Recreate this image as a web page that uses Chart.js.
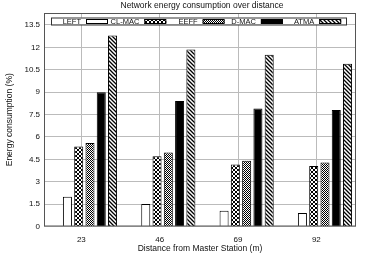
<!DOCTYPE html>
<html>
<head>
<meta charset="utf-8">
<script src="https://cdn.jsdelivr.net/npm/chart.js@4"></script>
<style>
  html, body { margin: 0; padding: 0; background: #fff; }
  #wrap { width: 367px; height: 255px; }
</style>
</head>
<body>
<div id="wrap"><canvas id="chart"></canvas></div>
<script>
const distances = ['23', '46', '69', '92'];
const seriesNames = ['LEFT', 'CL-MAC', 'EEFF', 'D-MAC', 'ATMA'];
const leftVals  = [2.0, 1.5, 1.05, 0.9];
const clmacVals = [5.35, 4.7, 4.15, 4.05];
const eeffVals  = [5.6, 4.95, 4.4, 4.28];
const dmacVals  = [9.0, 8.4, 7.9, 7.8];
const atmaVals  = [12.8, 11.85, 11.5, 10.9];
const yTicks = [0, 1.5, 3, 4.5, 6, 7.5, 9, 10.5, 12, 13.5];

const FONT = '"Liberation Sans", Arial, sans-serif';
const TEXT = '#111';

// small tiles used as bar fills
function makePattern(kind) {
    const c = document.createElement('canvas');
    const g = c.getContext('2d');
    if (kind === 'cross') {
        c.width = 4; c.height = 4;
        g.fillStyle = '#fff'; g.fillRect(0, 0, 4, 4);
        g.strokeStyle = '#000'; g.lineWidth = 1;
        g.beginPath();
        g.moveTo(0, 0); g.lineTo(4, 4);
        g.moveTo(4, 0); g.lineTo(0, 4);
        g.stroke();
    } else if (kind === 'checker') {
        c.width = 2; c.height = 2;
        g.fillStyle = '#fff'; g.fillRect(0, 0, 2, 2);
        g.fillStyle = '#000';
        g.fillRect(0, 0, 1, 1); g.fillRect(1, 1, 1, 1);
    } else if (kind === 'stripes') {
        c.width = 4; c.height = 4;
        g.fillStyle = '#fff'; g.fillRect(0, 0, 4, 4);
        g.strokeStyle = '#000'; g.lineWidth = 1.3;
        g.beginPath();
        g.moveTo(-1, -1); g.lineTo(5, 5);
        g.moveTo(-1, 3); g.lineTo(1, 5);
        g.moveTo(3, -1); g.lineTo(5, 1);
        g.stroke();
    }
    return g.createPattern(c, 'repeat');
}

const fills = ['#ffffff', makePattern('cross'), makePattern('checker'), '#000000', makePattern('stripes')];
const allVals = [leftVals, clmacVals, eeffVals, dmacVals, atmaVals];

const LABEL_SHIFT = -0.11;

// gnuplot-style legend: text, then sample box
const legendBox = {
    id: 'legendBox',
    afterDraw(chart) {
        const { ctx, chartArea } = chart;
        const top = chartArea.top + 4.5;
        ctx.save();
        ctx.fillStyle = '#fff';
        ctx.fillRect(chartArea.left + 7, top, 296, 7);
        ctx.strokeStyle = '#333';
        ctx.lineWidth = 1;
        ctx.strokeRect(chartArea.left + 7.5, top + 0.5, 295, 7);
        ctx.font = '7.5px ' + FONT;
        ctx.textAlign = 'right';
        ctx.textBaseline = 'middle';
        chart.data.datasets.forEach((ds, i) => {
            const sx = chartArea.left + 42 + i * 58.3;
            ctx.fillStyle = TEXT;
            ctx.fillText(ds.label, sx - 5, top + 4);
            ctx.fillStyle = ds.backgroundColor;
            ctx.fillRect(sx, top + 1.5, 22, 5);
            ctx.strokeStyle = '#000';
            ctx.strokeRect(sx + 0.5, top + 2, 21, 4);
        });
        ctx.restore();
    }
};

const frame = {
    id: 'frame',
    afterDatasetsDraw(chart) {
        const { ctx, chartArea: a } = chart;
        ctx.save();
        ctx.strokeStyle = '#555';
        ctx.lineWidth = 1;
        ctx.strokeRect(a.left + 0.5, a.top + 0.5, a.right - a.left - 1, a.bottom - a.top - 1);
        ctx.restore();
    }
};

new Chart(document.getElementById('chart'), {
    type: 'bar',
    data: {
        datasets: seriesNames.map((name, s) => ({
            label: name,
            data: allVals[s].map((v, i) => ({ x: i, y: v })),
            backgroundColor: fills[s],
            borderColor: '#000',
            borderWidth: 1,
            categoryPercentage: 0.72,
            barPercentage: 0.8
        }))
    },
    options: {
        responsive: true,
        maintainAspectRatio: false,
        animation: false,
        layout: { padding: { top: 13, right: 11, left: 0, bottom: 0 } },
        plugins: {
            legend: { display: false },
            tooltip: { enabled: false },
            title: { display: false }
        },
        scales: {
            x: {
                type: 'linear',
                min: -0.587,
                max: 3.396,
                offset: false,
                afterBuildTicks: (axis) => {
                    axis.ticks = distances.map((d, i) => ({ value: i + LABEL_SHIFT }));
                },
                afterFit: (axis) => { axis.height = 28.5; },
                grid: { offset: false, color: '#bbb', borderDash: [1, 2], drawTicks: false },
                border: { display: false },
                ticks: {
                    autoSkip: false,
                    maxRotation: 0,
                    padding: 8,
                    color: TEXT,
                    font: { family: FONT, size: 8 },
                    callback: (v, i) => distances[i]
                },
                title: {
                    display: true,
                    text: 'Distance from Master Station (m)',
                    color: TEXT,
                    font: { family: FONT, size: 8.5 },
                    padding: { top: 0, bottom: 1 }
                }
            },
            y: {
                min: 0,
                max: 14.3,
                afterBuildTicks: (axis) => {
                    axis.ticks = yTicks.map(v => ({ value: v }));
                },
                afterFit: (axis) => { axis.width = 44; },
                grid: { color: '#bbb', borderDash: [1, 2], drawTicks: false },
                border: { display: false },
                ticks: {
                    padding: 4,
                    color: TEXT,
                    font: { family: FONT, size: 8 },
                    callback: (v) => String(v)
                },
                title: {
                    display: true,
                    text: 'Energy consumption (%)',
                    color: TEXT,
                    font: { family: FONT, size: 8.5 },
                    padding: { top: 5, bottom: 0 }
                }
            }
        }
    },
    plugins: [frame, legendBox, {
        id: 'topTitle',
        afterDraw(chart) {
            const { ctx, chartArea } = chart;
            ctx.save();
            ctx.font = '8.5px ' + FONT;
            ctx.fillStyle = TEXT;
            ctx.textAlign = 'center';
            ctx.textBaseline = 'middle';
            ctx.fillText('Network energy consumption over distance', (chartArea.left + chartArea.right) / 2 + 2, 5.5);
            ctx.restore();
        }
    }]
});
</script>
</body>
</html>
